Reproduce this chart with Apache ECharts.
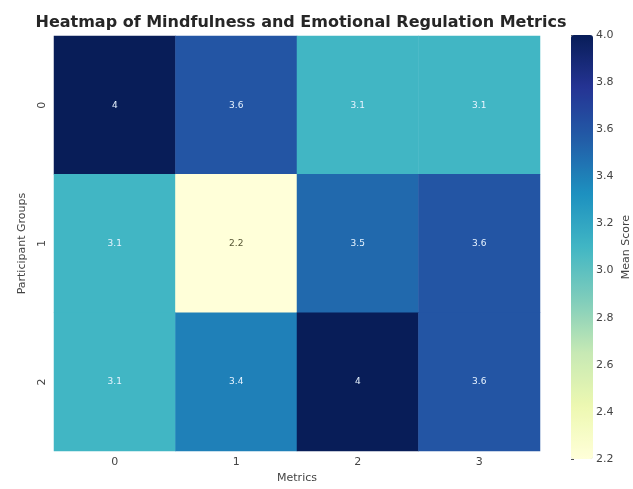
<!DOCTYPE html>
<html>
<head>
<meta charset="utf-8">
<script src="https://cdn.jsdelivr.net/npm/echarts@6/dist/echarts.min.js"></script>
<style>
  html, body { margin: 0; padding: 0; background: #fff; }
  #chart { width: 633px; height: 489px; }
</style>
</head>
<body>
<div id="chart"></div>
<script>
// data
const metrics = ['0', '1', '2', '3'];
const groups = ['0', '1', '2'];
const row0 = [4.0, 3.6, 3.1, 3.1];
const row1 = [3.1, 2.2, 3.5, 3.6];
const row2 = [3.1, 3.4, 4.0, 3.6];
const scoreMin = 2.2;
const scoreMax = 4.0;

const rows = [row0, row1, row2];
let cells = [];
rows.forEach((r, gi) => {
    r.forEach((v, mi) => cells.push([mi, gi, v]));
});

// YlGnBu
const ylgnbu = ['#ffffd9', '#edf8b1', '#c7e9b4', '#7fcdbb', '#41b6c4', '#1d91c0', '#225ea8', '#253494', '#081d58'];

const chart = echarts.init(document.getElementById('chart'));
const font = 'DejaVu Sans';

let option = {
    animation: false,
    textStyle: { fontFamily: font },
    title: {
        text: 'Heatmap of Mindfulness and Emotional Regulation Metrics',
        left: 296,
        top: 10,
        textAlign: 'center',
        textStyle: { fontSize: 16, fontWeight: 'bold', color: '#262626', fontFamily: font }
    },
    grid: [
        { left: 54, right: 93, top: 36, bottom: 32 },
        { left: 571, width: 22, top: 35, height: 424 }  // colorbar axis
    ],
    xAxis: [{
        type: 'category',
        data: metrics,
        gridIndex: 0,
        name: 'Metrics',
        nameLocation: 'middle',
        nameGap: 19,
        nameTextStyle: { fontSize: 11, color: '#444' },
        axisLine: { show: false },
        axisTick: { alignWithLabel: true, length: 4, lineStyle: { color: '#555' } },
        axisLabel: { fontSize: 11, color: '#444', margin: 6 },
        splitLine: { show: false }
    }, {
        type: 'value',
        gridIndex: 1,
        show: false
    }],
    yAxis: [{
        type: 'category',
        data: groups,
        inverse: true,
        gridIndex: 0,
        name: 'Participant Groups',
        nameLocation: 'middle',
        nameGap: 26,
        nameTextStyle: { fontSize: 11, color: '#444' },
        axisLine: { show: false },
        axisTick: { alignWithLabel: true, length: 4, lineStyle: { color: '#555' } },
        axisLabel: { fontSize: 11, color: '#444', rotate: 90, margin: 6 },
        splitLine: { show: false }
    }, {
        type: 'value',
        gridIndex: 1,
        position: 'right',
        min: scoreMin,
        max: scoreMax,
        interval: 0.2,
        name: 'Mean Score',
        nameLocation: 'middle',
        nameRotate: 90,
        nameGap: 30,
        nameTextStyle: { fontSize: 11, color: '#444' },
        axisLine: { show: false },
        axisTick: { show: true, length: 3, lineStyle: { color: '#555' } },
        axisLabel: {
            fontSize: 11, color: '#444', margin: 5,
            formatter: v => v.toFixed(1)
        },
        splitLine: { show: false }
    }],
    visualMap: {
        type: 'continuous',
        min: scoreMin,
        max: scoreMax,
        calculable: false,
        seriesIndex: 0,
        orient: 'vertical',
        left: 571,
        top: 35,
        padding: 0,
        itemWidth: 22,
        itemHeight: 424,
        text: ['', ''],
        itemGap: 0,
        showLabel: false,
        inRange: { color: ylgnbu },
        textStyle: { color: 'transparent', fontSize: 1 }
    },
    series: [{
        type: 'heatmap',
        xAxisIndex: 0,
        yAxisIndex: 0,
        data: cells,
        label: {
            show: true,
            fontSize: 9,
            fontFamily: font,
            formatter: p => String(Math.round(p.value[2] * 10) / 10),
            color: '#fff'
        },
        itemStyle: { borderWidth: 0 },
        emphasis: { disabled: true }
    }]
};

// dark text on light cells, like seaborn's annot
option.series[0].data = cells.map(c => ({
    value: c,
    label: { color: c[2] < 2.7 ? '#555533' : '#e8f4ff' }
}));

chart.setOption(option);
</script>
</body>
</html>
